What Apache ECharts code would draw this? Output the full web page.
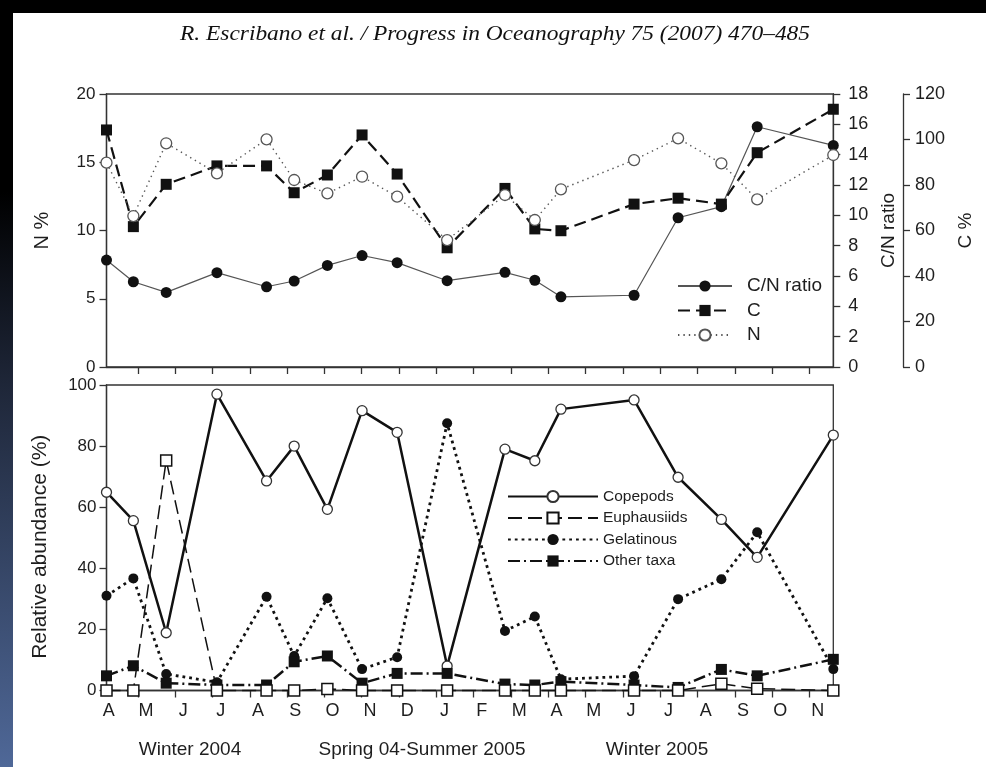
<!DOCTYPE html>
<html><head><meta charset="utf-8">
<script src="https://cdn.jsdelivr.net/npm/echarts@6/dist/echarts.min.js"></script>
<style>html,body{margin:0;padding:0;background:#fff}#c{width:986px;height:767px}</style>
</head><body><div id="c"></div>
<script>
// ---- data ----
const monthLetters = ['A','M','J','J','A','S','O','N','D','J','F','M','A','M','J','J','A','S','O','N'];
// sampling dates in months since 1 April 2004
const sampleMonths = [0.16, 0.88, 1.76, 3.12, 4.45, 5.19, 6.08, 7.01, 7.95, 9.29, 10.84, 11.64, 12.34, 14.30, 15.48, 16.64, 17.60, 19.64];
const cnRatio     = [7.05, 5.62, 4.92, 6.22, 5.29, 5.67, 6.70, 7.35, 6.88, 5.69, 6.24, 5.72, 4.63, 4.73, 9.84, 10.57, 15.84, 14.61];
const carbonPct   = [104.2, 61.7, 80.3, 88.4, 88.4, 76.6, 84.4, 102.0, 84.8, 52.4, 78.5, 60.7, 59.9, 71.6, 74.2, 71.6, 94.2, 113.3];
const nitrogenPct = [14.97, 11.06, 16.39, 14.19, 16.68, 13.70, 12.72, 13.94, 12.48, 9.30, 12.60, 10.77, 13.02, 15.16, 16.75, 14.92, 12.28, 15.53];
const copepods    = [64.9, 55.6, 18.9, 97.0, 68.6, 80.0, 59.3, 91.6, 84.5, 8.0, 79.0, 75.2, 92.1, 95.1, 69.8, 56.0, 43.6, 83.6];
const euphausiids = [0, 0, 75.3, 0, 0, 0, 0.5, 0, 0, 0, 0, 0, 0, 0, 0, 2.2, 0.6, 0];
const gelatinous  = [31.0, 36.7, 5.4, 2.7, 30.7, 11.3, 30.2, 7.0, 10.9, 87.5, 19.5, 24.2, 3.7, 4.7, 29.9, 36.4, 51.8, 7.0];
const otherTaxa   = [4.8, 8.1, 2.4, 1.8, 1.8, 9.4, 11.3, 2.4, 5.6, 5.6, 2.1, 1.8, 2.9, 1.8, 1.0, 6.9, 4.8, 10.2];
const periodLabels = ['Winter 2004', 'Spring 04-Summer 2005', 'Winter 2005'];
const titleText = 'R. Escribano et al. / Progress in Oceanography 75 (2007) 470–485';

// ---- helpers ----
const pairs = vals => vals.map((v, i) => [sampleMonths[i], v]);
const tickVals = []; for (let k = 1; k < monthLetters.length; k++) tickVals.push(k);
const labelVals = monthLetters.map((m, k) => k + 0.22);

const FONT = '"Liberation Sans", Arial, sans-serif';
const AX = '#333';
const TXT = '#1e1e1e';

const titleFont = 'italic 20px "Liberation Serif"';
const cv = document.createElement('canvas').getContext('2d');
cv.font = titleFont;
const titleScale = 630 / cv.measureText(titleText).width;

function xAxisCfg(grid, showLabels) {
  return {
    type: 'value', gridIndex: grid, min: 0.16, max: 19.64,
    splitLine: { show: false },
    axisLine: { lineStyle: { color: AX, width: 1.3 } },
    axisTick: { show: true, length: 7, customValues: tickVals, lineStyle: { color: AX, width: 1.3 } },
    axisLabel: {
      show: showLabels, customValues: labelVals, margin: 12,
      fontSize: 18, fontFamily: FONT, color: TXT,
      formatter: v => monthLetters[Math.floor(v)]
    }
  };
}
function yAxisCfg(o) {
  return Object.assign({
    type: 'value', splitLine: { show: false },
    axisLine: { show: true, lineStyle: { color: AX, width: 1.3 } },
    axisTick: { show: true, length: 7, lineStyle: { color: AX, width: 1.3 } },
    axisLabel: { fontSize: 17, fontFamily: FONT, color: TXT, margin: 12 },
    nameLocation: 'middle',
    nameTextStyle: { fontSize: 20, fontFamily: FONT, color: TXT }
  }, o);
}

const chart = echarts.init(document.getElementById('c'), null, { renderer: 'canvas' });
chart.setOption({
  animation: false,
  backgroundColor: '#fff',
  grid: [
    { left: 106.5, top: 94, width: 726.8, height: 273, show: true, borderColor: AX, borderWidth: 1.3, backgroundColor: 'transparent' },
    { left: 106.5, top: 385, width: 726.8, height: 305.5, show: true, borderColor: AX, borderWidth: 1.3, backgroundColor: 'transparent' }
  ],
  xAxis: [xAxisCfg(0, false), xAxisCfg(1, true)],
  yAxis: [
    yAxisCfg({ gridIndex: 0, position: 'left', min: 0, max: 20, interval: 5, name: 'N %', nameGap: 54,
      axisLabel: { fontSize: 17, fontFamily: FONT, color: TXT, margin: 11 } }),
    yAxisCfg({ gridIndex: 0, position: 'right', min: 0, max: 18, interval: 2, name: 'C/N ratio', nameGap: 42,
      axisLabel: { fontSize: 18, fontFamily: FONT, color: TXT, margin: 15 },
      nameTextStyle: { fontSize: 19, fontFamily: FONT, color: TXT } }),
    yAxisCfg({ gridIndex: 0, position: 'right', offset: 69.7, min: 0, max: 120, interval: 20, name: 'C %', nameGap: 42,
      axisLabel: { fontSize: 18, fontFamily: FONT, color: TXT, margin: 12 },
      nameTextStyle: { fontSize: 19, fontFamily: FONT, color: TXT } }),
    yAxisCfg({ gridIndex: 1, position: 'left', min: 0, max: 100, interval: 20, name: 'Relative abundance (%)', nameGap: 56,
      axisLabel: { fontSize: 17, fontFamily: FONT, color: TXT, margin: 10 },
      nameTextStyle: { fontSize: 21, fontFamily: FONT, color: TXT, padding: [0, 18, 0, 0] } })
  ],
  legend: [
    { data: ['C/N ratio', 'C', 'N'], orient: 'vertical', left: 677, top: 276.5, padding: 0, itemWidth: 54, itemHeight: 14, itemGap: 5.5,
      selectedMode: false, textStyle: { fontSize: 19, fontFamily: FONT, color: TXT, padding: [0, 0, 0, 10] } },
    { data: ['Copepods', 'Euphausiids', 'Gelatinous', 'Other taxa'], orient: 'vertical', left: 507, top: 488.5, padding: 0,
      itemWidth: 90, itemHeight: 14, itemGap: 5.5, selectedMode: false,
      textStyle: { fontSize: 15.5, fontFamily: FONT, color: TXT } }
  ],
  series: [
    { name: 'C/N ratio', type: 'line', xAxisIndex: 0, yAxisIndex: 1, data: pairs(cnRatio), clip: false,
      symbol: 'circle', symbolSize: 11, lineStyle: { color: '#555', width: 1.2 }, itemStyle: { color: '#111' } },
    { name: 'C', type: 'line', xAxisIndex: 0, yAxisIndex: 2, data: pairs(carbonPct), clip: false,
      symbol: 'rect', symbolSize: 11, lineStyle: { color: '#111', width: 2.2, type: [12, 6] }, itemStyle: { color: '#111' } },
    { name: 'N', type: 'line', xAxisIndex: 0, yAxisIndex: 0, data: pairs(nitrogenPct), clip: false,
      symbol: 'circle', symbolSize: 11, lineStyle: { color: '#555', width: 1.4, type: [1.4, 4] },
      itemStyle: { color: '#fff', borderColor: '#555', borderWidth: 1.3 } },

    { name: 'Copepods', type: 'line', xAxisIndex: 1, yAxisIndex: 3, data: pairs(copepods), clip: false,
      symbol: 'circle', symbolSize: 10, lineStyle: { color: '#111', width: 2.5 },
      itemStyle: { color: '#fff', borderColor: '#333', borderWidth: 1.3 } },
    { name: 'Gelatinous', type: 'line', xAxisIndex: 1, yAxisIndex: 3, data: pairs(gelatinous), clip: false,
      symbol: 'circle', symbolSize: 10, lineStyle: { color: '#111', width: 2.8, type: [2.8, 4] }, itemStyle: { color: '#111' } },
    { name: 'Other taxa', type: 'line', xAxisIndex: 1, yAxisIndex: 3, data: pairs(otherTaxa), clip: false,
      symbol: 'rect', symbolSize: 11, lineStyle: { color: '#111', width: 2.5, type: [12, 4, 2, 4] }, itemStyle: { color: '#111' } },
    { name: 'Euphausiids', type: 'line', xAxisIndex: 1, yAxisIndex: 3, data: pairs(euphausiids), clip: false,
      symbol: 'rect', symbolSize: 11, lineStyle: { color: '#111', width: 1.5, type: [14, 6] },
      itemStyle: { color: '#fff', borderColor: '#111', borderWidth: 1.5 } }
  ],
  graphic: [
    { type: 'rect', shape: { x: 0, y: 0, width: 986, height: 13 }, style: { fill: '#000' }, z: 0 },
    { type: 'rect', shape: { x: 0, y: 0, width: 13, height: 767 }, z: 0,
      style: { fill: { type: 'linear', x: 0, y: 0, x2: 0, y2: 1,
        colorStops: [{ offset: 0, color: '#000' }, { offset: 0.25, color: '#000' }, { offset: 0.5, color: '#1e2638' }, { offset: 1, color: '#4f6898' }] } } },
    { type: 'text', x: 495, y: 35, scaleX: titleScale, z: 10,
      style: { text: titleText, font: titleFont, fill: '#111', textAlign: 'center', textVerticalAlign: 'middle' } },
    { type: 'text', x: 190, y: 750, z: 10,
      style: { text: periodLabels[0], font: '19px ' + FONT, fill: TXT, textAlign: 'center', textVerticalAlign: 'middle' } },
    { type: 'text', x: 422, y: 750, z: 10,
      style: { text: periodLabels[1], font: '19px ' + FONT, fill: TXT, textAlign: 'center', textVerticalAlign: 'middle' } },
    { type: 'text', x: 657, y: 750, z: 10,
      style: { text: periodLabels[2], font: '19px ' + FONT, fill: TXT, textAlign: 'center', textVerticalAlign: 'middle' } }
  ]
});
</script>
</body></html>
